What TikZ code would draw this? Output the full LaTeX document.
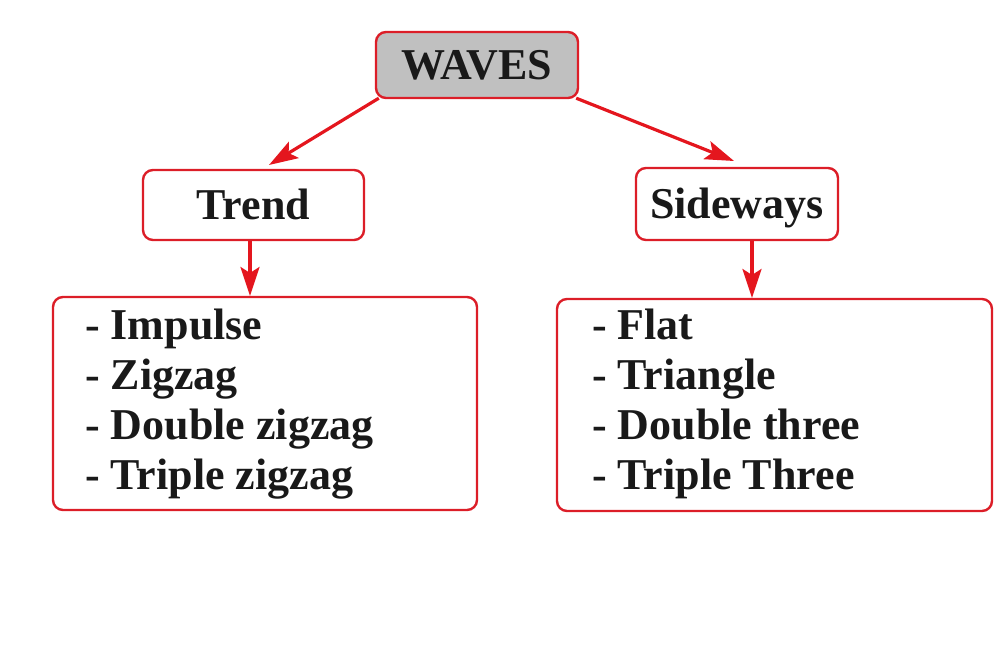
\documentclass[tikz,border=0pt]{standalone}
\usepackage{fontspec}
\setmainfont{Liberation Serif}
\usetikzlibrary{arrows.meta}
\definecolor{lred}{RGB}{228,22,30}
\definecolor{bred}{RGB}{220,30,40}
\definecolor{boxgray}{RGB}{192,192,192}
\tikzset{
  box/.style={draw=bred, line width=2.4pt, rounded corners=10pt, inner sep=0pt,
    font=\fontsize{44}{50}\selectfont\bfseries, text=black!90, text height=29pt, text depth=0pt},
  item/.style={anchor=base west, inner sep=0pt, font=\fontsize{44}{50}\selectfont\bfseries, text=black!90},
  arr/.style={draw=lred, line width=3.2pt, -{Stealth[length=29pt,width=19pt,inset=6pt]}}
}
\begin{document}
\begin{tikzpicture}[x=1pt,y=1pt]
\useasboundingbox (0,0) rectangle (1000,658);
\node[box, fill=boxgray, minimum width=202pt, minimum height=66pt] (waves) at (477,593) {WAVES};
\node[box, minimum width=221pt, minimum height=70pt] (trend) at (253.5,453) {Trend};
\node[box, minimum width=202pt, minimum height=72pt] (side) at (737,454) {Sideways};
\node[box, minimum width=424pt, minimum height=213pt] (lbox) at (265,254.5) {};
\node[box, minimum width=435pt, minimum height=212pt] (rbox) at (774.5,253) {};
\node[item] (l1) at (85,318) {- Impulse};
\node[item] (l2) at (85,268) {- Zigzag};
\node[item] (l3) at (85,218) {- Double zigzag};
\node[item] (l4) at (85,168) {- Triple zigzag};
\node[item] (r1) at (592,318) {- Flat};
\node[item] (r2) at (592,268) {- Triangle};
\node[item] (r3) at (592,218) {- Double three};
\node[item] (r4) at (592,168) {- Triple Three};
\coordinate (tipL) at (269,493);
\coordinate (tipR) at (734,497);
\coordinate (tipT) at (250,362);
\coordinate (tipS) at (752,360);
\draw[arr] ([xshift=4pt,yshift=1pt]waves.south west) -- (tipL);
\draw[arr] ([xshift=-3pt,yshift=1pt]waves.south east) -- (tipR);
\draw[arr] (trend.south -| tipT) -- (tipT);
\draw[arr] (side.south -| tipS) -- (tipS);
\end{tikzpicture}
\end{document}
